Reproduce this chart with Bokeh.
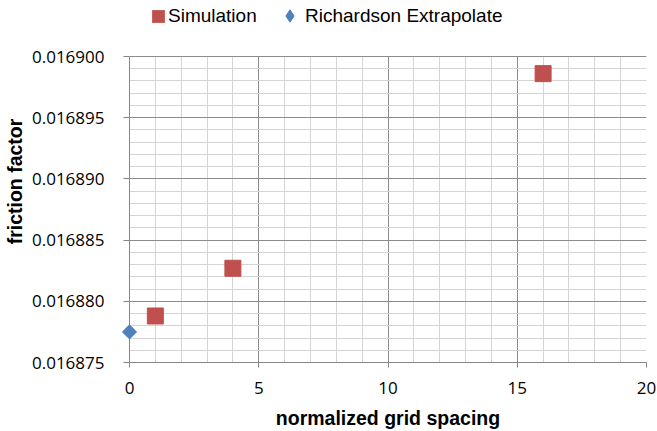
import numpy as np
from bokeh.plotting import figure
from bokeh.models import (ColumnDataSource, Legend, LegendItem, FixedTicker,
                          PrintfTickFormatter, Range1d, BoxAnnotation)
from bokeh.embed import file_html
from bokeh.resources import INLINE

# ---- data ----
sim_spacing = [1, 4, 16]
sim_friction = [0.0168788, 0.0168827, 0.0168986]
rich_spacing = [0]
rich_friction = [0.0168775]

x_ticks = [0, 5, 10, 15, 20]
y_ticks = [0.016875, 0.016880, 0.016885, 0.016890, 0.016895, 0.016900]
x_minor = [i for i in range(0, 21)]
y_minor = [0.016875 + k * 1e-6 for k in range(0, 26)]

SIM_COLOR = "#C0504D"
RICH_COLOR = "#4F81BD"

Y0, Y1 = 0.016875, 0.016900
W, H = 657, 431
left, right, bottom = 129, 11, 69
axes_h = 306                       # pixel height of the data area
frame_h = H - bottom               # frame reaches the top of the figure
y_end = Y0 + (Y1 - Y0) * frame_h / axes_h

p = figure(width=W, height=H, output_backend="svg", toolbar_location=None,
           x_range=Range1d(0, 20), y_range=Range1d(Y0, y_end),
           min_border_left=left, min_border_right=right, min_border_top=0,
           min_border_bottom=bottom)
p.outline_line_color = None
p.background_fill_color = "white"
p.border_fill_color = "white"
# a range used only by legend swatch renderers, so that they stay off-screen
p.extra_y_ranges = {"swatch": Range1d(1, 2)}

p.xaxis.ticker = FixedTicker(ticks=x_ticks, minor_ticks=x_minor)
p.yaxis.ticker = FixedTicker(ticks=y_ticks, minor_ticks=y_minor)
p.yaxis.formatter = PrintfTickFormatter(format="%.6f")
p.yaxis.bounds = (Y0, Y1)

for ax in (p.xaxis, p.yaxis):
    ax.axis_line_color = "#868686"
    ax.major_tick_line_color = "#868686"
    ax.minor_tick_line_color = None
    ax.major_tick_out = 5
    ax.major_tick_in = 0
    ax.major_label_text_font = "Open Sans"
    ax.major_label_text_font_size = "17px"
    ax.major_label_text_color = "#000000"
    ax.axis_label_text_font = "Liberation Sans"
    ax.axis_label_text_font_style = "bold"
    ax.axis_label_text_font_size = "19.5px"
    ax.axis_label_text_color = "#000000"

p.xaxis.axis_label = "normalized grid spacing"
p.yaxis.axis_label = "friction factor"
p.yaxis.major_tick_out = 6
p.yaxis.major_label_standoff = 19
p.xaxis.major_label_standoff = 14
p.yaxis.axis_label_standoff = 3
p.xaxis.axis_label_standoff = 10

p.grid.grid_line_color = "#8c8c8c"
p.grid.minor_grid_line_color = "#d4d4d4"
p.grid.level = "underlay"

covered = False
try:
    p.xgrid.cross_bounds = (Y0, Y1)
    p.ygrid.bounds = (Y0, Y1)
    covered = True
except Exception:
    covered = False
if not covered:
    p.add_layout(BoxAnnotation(bottom=Y1 + 1e-8, fill_color="white", fill_alpha=1,
                               line_color=None, level="underlay"))

sim_src = ColumnDataSource(dict(x=sim_spacing, y=sim_friction))
rich_src = ColumnDataSource(dict(x=rich_spacing, y=rich_friction))

r_sim = p.scatter("x", "y", source=sim_src, marker="square", size=16,
                  fill_color=SIM_COLOR, line_color=SIM_COLOR, level="overlay")
r_rich = p.scatter("x", "y", source=rich_src, marker="square", size=10,
                   angle=np.pi / 4, fill_color=RICH_COLOR, line_color=RICH_COLOR,
                   level="overlay")

# legend swatches: same data, mapped on the off-screen range (clipped away)
sw_sim = p.rect("x", "y", width=0.1, height=0.1, source=sim_src,
                y_range_name="swatch", fill_color=SIM_COLOR, line_color=None)
sw_rich = p.scatter("x", "y", source=rich_src, marker="diamond",
                    y_range_name="swatch",
                    fill_color=RICH_COLOR, line_color=RICH_COLOR)

common = dict(orientation="horizontal", padding=0, margin=0, spacing=0,
              label_text_font="Liberation Sans", label_text_font_size="19px",
              label_text_color="#000000",
              border_line_color=None, background_fill_alpha=0)
leg1 = Legend(items=[LegendItem(label="Simulation", renderers=[sw_sim])],
              location=(21, 335), glyph_width=16, glyph_height=16,
              label_standoff=2, **common)
leg2 = Legend(items=[LegendItem(label="Richardson Extrapolate", renderers=[sw_rich])],
              location=(145, 331), glyph_width=31, glyph_height=31,
              label_standoff=0, **common)
p.add_layout(leg1, "center")
p.add_layout(leg2, "center")

open("out.html", "w").write(file_html(p, INLINE))
